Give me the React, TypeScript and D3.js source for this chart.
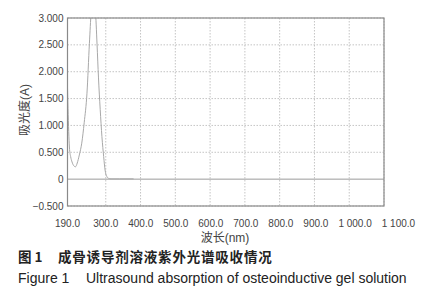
import React from "react";
import * as d3 from "d3";

const wavelengths = [190, 192, 194, 196, 199, 203, 208, 213, 218, 224, 231, 238, 246, 253, 258, 264, 270, 275, 279, 284, 289, 294, 298, 303, 308, 315, 340, 380];
const absorbance = [1.7, 1.2, 0.8, 0.55, 0.42, 0.32, 0.25, 0.23, 0.3, 0.45, 0.67, 1.05, 1.6, 2.53, 3.1, 3.35, 3.15, 2.5, 1.9, 1.3, 0.79, 0.42, 0.17, 0.05, 0.015, 0.005, 0.005, 0.005];

const xTicks = [190, 300, 400, 500, 600, 700, 800, 900, 1000, 1100];
const xTickLabels = ["190.0", "300.0", "400.0", "500.0", "600.0", "700.0", "800.0", "900.0", "1 000.0", "1 100.0"];
const yTicks = [-0.5, 0, 0.5, 1, 1.5, 2, 2.5, 3];
const yTickLabels = ["\u22120.500", "0", "0.500", "1.000", "1.500", "2.000", "2.500", "3.000"];

const xTitle = "波长(nm)";
const yTitle = "吸光度(A)";
const captionCnLabel = "图 1";
const captionCn = "成骨诱导剂溶液紫外光谱吸收情况";
const captionEnLabel = "Figure 1";
const captionEn = "Ultrasound absorption of osteoinductive gel solution";

const W = 439;
const H = 300;
const L = 67.5;
const R = 384;
const T = 18;
const B = 206;
const TICK_FS = 10;
const MIN_GAP = 10;

const font = "'Liberation Sans', Arial, 'Noto Sans CJK SC', sans-serif";

function labelWidth(s: string, fs: number) {
  let w = 0;
  for (const c of s) {
    if (c >= "0" && c <= "9") w += 0.556;
    else if (c === "." || c === " ") w += 0.278;
    else w += 0.584;
  }
  return w * fs;
}

export default function App() {
  const x = d3.scaleLinear().domain([190, 1100]).range([L, R]);
  const y = d3.scaleLinear().domain([-0.5, 3]).range([B, T]);
  const pts: [number, number][] = wavelengths.map((w, i) => [w, absorbance[i]]);
  const line = d3
    .line<[number, number]>()
    .x((d) => x(d[0]))
    .y((d) => y(d[1]))
    .curve(d3.curveMonotoneX);

  // greedy layout: keep a minimum gap between neighbouring tick labels
  const xLabelPos: number[] = [];
  let prevEnd = -Infinity;
  xTicks.forEach((t, i) => {
    const w = labelWidth(xTickLabels[i], TICK_FS);
    let start = x(t) - w / 2;
    if (start < prevEnd + MIN_GAP) start = prevEnd + MIN_GAP;
    xLabelPos.push(start + w / 2);
    prevEnd = start + w;
  });

  return (
    <svg
      width={W}
      height={H}
      style={{ position: "absolute", left: 0, top: 0, background: "#fff" }}
      fontFamily={font}
    >
      <rect x={0} y={0} width={W} height={H} fill="#fff" />
      <defs>
        <clipPath id="plotclip">
          <rect x={L} y={T} width={R - L} height={B - T} />
        </clipPath>
      </defs>
      {xTicks.map((t) => (
        <line key={"gx" + t} x1={x(t)} x2={x(t)} y1={T} y2={B} stroke="#b5b5b5" strokeWidth={0.8} strokeDasharray="1.5,1.5" />
      ))}
      {yTicks.map((t) =>
        t === 0 ? null : (
          <line key={"gy" + t} x1={L} x2={R} y1={y(t)} y2={y(t)} stroke="#b5b5b5" strokeWidth={0.8} strokeDasharray="1.5,1.5" />
        )
      )}
      <line x1={L} x2={R} y1={y(0)} y2={y(0)} stroke="#9a9a9a" strokeWidth={1} />
      <path d={line(pts) || ""} fill="none" stroke="#a8a8a8" strokeWidth={1} clipPath="url(#plotclip)" />
      <rect x={L} y={T} width={R - L} height={B - T} fill="none" stroke="#8a8a8a" strokeWidth={1.2} />
      {xTicks.map((t, i) => (
        <text key={"tx" + t} x={xLabelPos[i]} y={227} textAnchor="middle" fontSize={TICK_FS} fill="#444">
          {xTickLabels[i]}
        </text>
      ))}
      {yTicks.map((t, i) => (
        <text key={"ty" + t} x={63.5} y={y(t) + 3.5} textAnchor="end" fontSize={TICK_FS} fill="#444">
          {yTickLabels[i]}
        </text>
      ))}
      <text x={225} y={242} textAnchor="middle" fontSize={12} fill="#444">
        {xTitle}
      </text>
      <text transform={`translate(29,110) rotate(-90)`} textAnchor="middle" fontSize={12} fill="#444">
        {yTitle}
      </text>
      <text x={18} y={262} fontSize={13.5} fontWeight="bold" fill="#222" fontFamily="'Noto Sans CJK SC', sans-serif">
        {captionCnLabel}
      </text>
      <text x={58} y={262} fontSize={13.5} fontWeight="bold" fill="#222" fontFamily="'Noto Sans CJK SC', sans-serif" letterSpacing={0.8}>
        {captionCn}
      </text>
      <text x={18} y={283} fontSize={14} fill="#222">
        {captionEnLabel}
      </text>
      <text x={86} y={283} fontSize={14} fill="#222">
        {captionEn}
      </text>
    </svg>
  );
}
